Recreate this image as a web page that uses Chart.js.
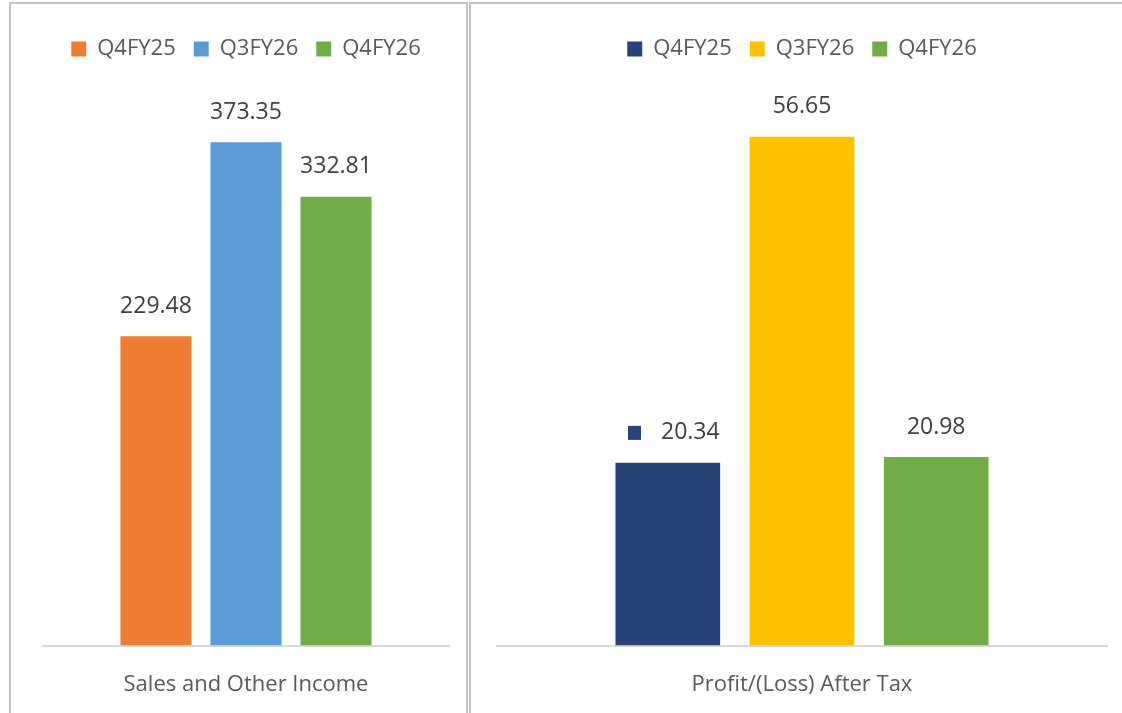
<!DOCTYPE html>
<html>
<head>
<meta charset="utf-8">
<script src="https://cdn.jsdelivr.net/npm/chart.js@4.4.1/dist/chart.umd.min.js"></script>
<style>
  html, body { margin: 0; padding: 0; background: #fff; overflow: hidden; }
  body { width: 1122px; height: 713px; position: relative; }
  .panel { position: absolute; border: 2px solid #c3c3c3; box-sizing: border-box; }
  canvas { position: absolute; }
</style>
</head>
<body>
<div class="panel" style="left:9px; top:2px; width:459px; height:760px;"></div>
<div class="panel" style="left:469px; top:2px; width:670px; height:760px;"></div>
<canvas id="salesChart" width="452" height="734" style="left:12px; top:5px;"></canvas>
<canvas id="patChart" width="650" height="734" style="left:472px; top:5px;"></canvas>
<script>
// chart data
const seriesNames = ['Q4FY25', 'Q3FY26', 'Q4FY26'];
const salesCategory = ['Sales and Other Income'];
const salesValues = [229.48, 373.35, 332.81];
const salesColors = ['#ED7D31', '#5B9BD5', '#70AD47'];
const patCategory = ['Profit/(Loss) After Tax'];
const patValues = [20.34, 56.65, 20.98];
const patColors = ['#264478', '#FFC000', '#70AD47'];

const FONT = '"Open Sans", "Noto Sans", sans-serif';

// draws value labels above each bar (optionally with a legend key square)
const valueLabels = {
  id: 'valueLabels',
  afterDatasetsDraw(chart, args, opts) {
    const ctx = chart.ctx;
    ctx.save();
    ctx.font = '23px ' + FONT;
    ctx.fillStyle = '#404040';
    ctx.textBaseline = 'middle';
    chart.data.datasets.forEach((ds, i) => {
      const meta = chart.getDatasetMeta(i);
      meta.data.forEach((bar, j) => {
        const txt = ds.data[j].toFixed(2);
        const w = ctx.measureText(txt).width;
        const y = bar.y - 30;
        if (opts.keyFor === i) {
          const total = 13 + 20 + w;
          const x0 = bar.x - total / 2 + 6;
          ctx.fillStyle = ds.backgroundColor;
          ctx.fillRect(x0, y - 7, 13, 14);
          ctx.fillStyle = '#404040';
          ctx.textAlign = 'left';
          ctx.fillText(txt, x0 + 33, y);
        } else {
          ctx.textAlign = 'center';
          ctx.fillText(txt, bar.x, y);
        }
      });
    });
    ctx.restore();
  }
};

function makeChart(id, categories, values, colors, yMax, pad, catPct, barPct, keyFor) {
  const ctx = document.getElementById(id).getContext('2d');
  return new Chart(ctx, {
    type: 'bar',
    data: {
      labels: categories,
      datasets: seriesNames.map((name, i) => ({
        label: name,
        data: [values[i]],
        backgroundColor: colors[i],
        borderWidth: 0,
        categoryPercentage: catPct,
        barPercentage: barPct
      }))
    },
    options: {
      responsive: false,
      animation: false,
      layout: { padding: pad },
      plugins: {
        legend: {
          position: 'top',
          labels: {
            boxWidth: 15,
            boxHeight: 15,
            padding: 18,
            color: '#595959',
            font: { family: FONT, size: 22 }
          }
        },
        tooltip: { enabled: false },
        valueLabels: { keyFor: keyFor }
      },
      scales: {
        x: {
          grid: { display: false },
          border: { display: true, color: '#d9d9d9', width: 2 },
          ticks: { color: '#595959', padding: 18, font: { family: FONT, size: 22 } }
        },
        y: {
          display: false,
          min: 0,
          max: yMax
        }
      }
    },
    plugins: [valueLabels]
  });
}

makeChart('salesChart', salesCategory, salesValues, salesColors, 426.9,
  { top: 15, left: 31, right: 15, bottom: 23 }, 0.665, 0.79, -1);
makeChart('patChart', patCategory, patValues, patColors, 64.07,
  { top: 15, left: 25, right: 15, bottom: 23 }, 0.66, 0.78, 0);
</script>
</body>
</html>
